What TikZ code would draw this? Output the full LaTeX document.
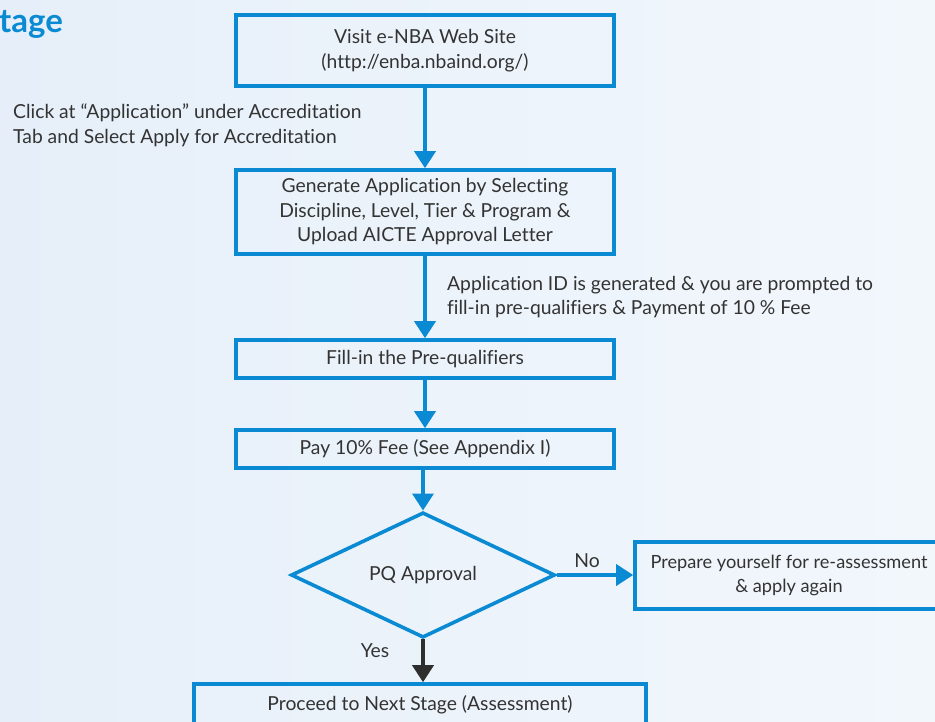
\documentclass[tikz,border=0pt]{standalone}
\usepackage{fontspec}
\setmainfont{Lato}[Ligatures=NoCommon]
\usetikzlibrary{shapes.geometric,arrows.meta}
\definecolor{bgL}{HTML}{E6EFF9}
\definecolor{bgR}{HTML}{F2F7FC}
\definecolor{nbablue}{HTML}{0B8AD4}
\definecolor{txt}{HTML}{333333}
\tikzset{
  box/.style={draw=nbablue, line width=3.6pt, minimum width=378pt, inner sep=0pt,
    align=center, text=txt, font=\fontsize{19.3}{24.5}\selectfont},
  lbl/.style={text=txt, font=\fontsize{19.3}{24.5}\selectfont, inner sep=0pt},
  flow/.style={draw=nbablue, line width=3.6pt, -{Triangle[width=21pt,length=17pt]}},
  flowblack/.style={draw=txt!90!black, line width=3.6pt, -{Triangle[width=21pt,length=17pt]}},
}
\begin{document}
\begin{tikzpicture}[x=1pt,y=-1pt]
\shade[left color=bgL, right color=bgR] (0,0) rectangle (935,721);
\useasboundingbox (0,0) rectangle (935,721);
\node[anchor=west, text=nbablue, inner sep=0pt, font=\fontsize{33}{38}\bfseries\selectfont] (title) at (-1,24) {tage};
\node[box, minimum height=71pt] (b1) at (425,50.5) {Visit e-NBA Web Site\\(http://enba.nbaind.org/)};
\node[box, minimum height=84pt] (b2) at (425,212) {Generate Application by Selecting\\Discipline, Level, Tier \& Program \&\\Upload AICTE Approval Letter};
\node[box, minimum height=38pt] (b3) at (425,359) {Fill-in the Pre-qualifiers};
\node[box, minimum height=38pt] (b4) at (425,449) {Pay 10\% Fee (See Appendix I)};
\node[diamond, draw=nbablue, line width=3.6pt, minimum width=264pt, minimum height=124pt, inner sep=0pt, text=txt, font=\fontsize{19.3}{24.5}\selectfont] (d) at (423,575) {PQ Approval};
\node[box, minimum width=308pt, minimum height=67pt, font=\fontsize{18.2}{23.5}\selectfont] (b5) at (789,575.5) {Prepare yourself for re-assessment\\\& apply again};
\node[box, minimum width=452pt, minimum height=42pt] (b6) at (420,705) {Proceed to Next Stage (Assessment)};
\node[lbl, anchor=west, align=left] (l1) at (13,125.5) {Click at “Application” under Accreditation\\Tab and Select Apply for Accreditation};
\node[lbl, anchor=west, align=left] (l2) at (447,297) {Application ID is generated \& you are prompted to\\fill-in pre-qualifiers \& Payment of 10 \% Fee};
\node[lbl] (no) at (587,561) {No};
\node[lbl] (yes) at (375,651) {Yes};
\draw[flow] (b1.south) -- (b2.north);
\draw[flow] (b2.south) -- (b3.north);
\draw[flow] (b3.south) -- (b4.north);
\draw[flow] (b4.south -| d.north) -- (d.north);
\draw[flow] (d.east) -- (b5.west |- d.east);
\draw[flowblack] (d.south) -- (d.south |- b6.north);
\end{tikzpicture}
\end{document}
